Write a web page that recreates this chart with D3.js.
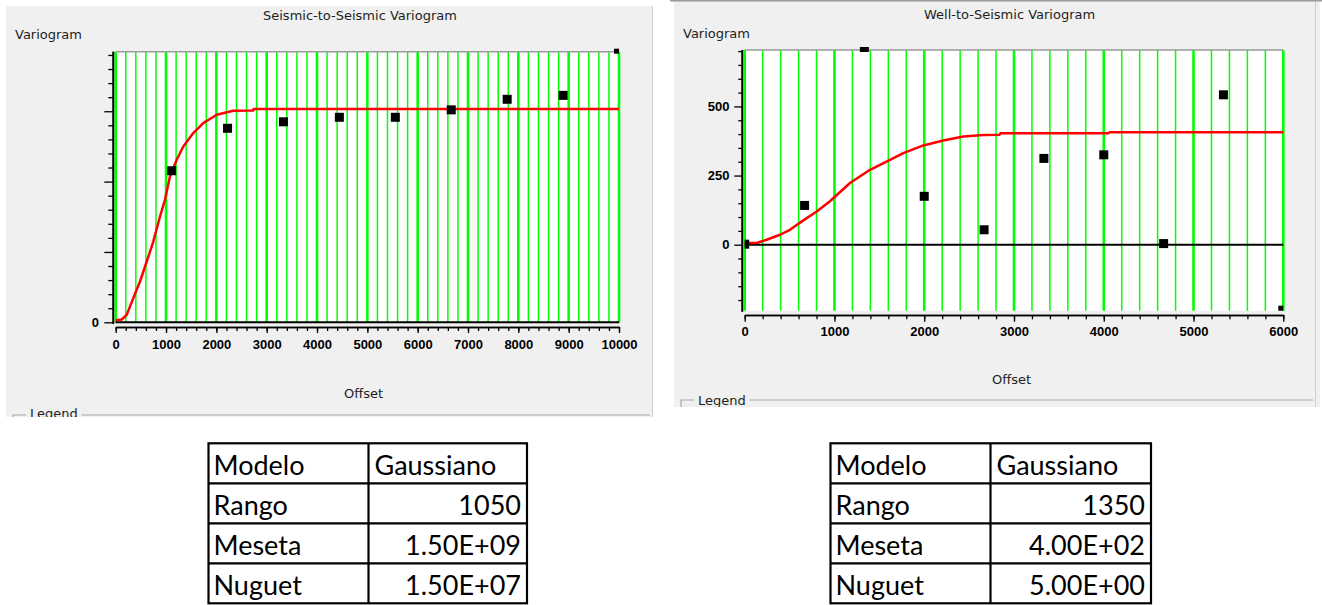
<!DOCTYPE html>
<html>
<head>
<meta charset="utf-8">
<script src="https://cdn.jsdelivr.net/npm/d3@7/dist/d3.min.js"></script>
<style>
  html, body { margin: 0; padding: 0; background: #ffffff; }
  svg { display: block; }
  .ttl { font-family: "DejaVu Sans", sans-serif; font-size: 13px; fill: #1e1e1e; }
  .tick text { font-family: "Liberation Sans", Arial, sans-serif; font-weight: bold; font-size: 13px; fill: #000; }
  .tbl { font-family: Lato, "Open Sans", sans-serif; font-size: 27px; fill: #000; }
</style>
</head>
<body>
<svg id="chart" width="1322" height="605"></svg>
<script>
// ---------------- DATA ----------------
// Seismic-to-Seismic variogram (left)
const leftTitle = "Seismic-to-Seismic Variogram";
const leftLag = [1111, 2222, 3333, 4444, 5556, 6667, 7778, 8889, 10000];
const leftGamma = [1.077e9, 1.379e9, 1.425e9, 1.457e9, 1.457e9, 1.510e9, 1.585e9, 1.613e9, 2.05e9];
const leftModelOffset = [0, 119, 218, 350, 483, 616, 747, 880, 979, 1078, 1212, 1343, 1541, 1740, 2006, 2336, 2730, 2740, 10000];
const leftModelGamma = [0.015e9, 0.02e9, 0.053e9, 0.172e9, 0.29e9, 0.432e9, 0.574e9, 0.752e9, 0.871e9, 1.036e9, 1.155e9, 1.249e9, 1.345e9, 1.416e9, 1.475e9, 1.503e9, 1.505e9, 1.516e9, 1.516e9];
const leftXMajor = [0, 1000, 2000, 3000, 4000, 5000, 6000, 7000, 8000, 9000, 10000];
const leftXMinorStep = 200;
const leftYMajor = [0, 5e8, 1e9, 1.5e9];
const leftYMajorLabels = ["0", "", "", ""];
const leftYMinor = [1e8, 2e8, 3e8, 4e8, 6e8, 7e8, 8e8, 9e8, 1.1e9, 1.2e9, 1.3e9, 1.4e9, 1.6e9, 1.7e9, 1.8e9, 1.9e9];

// Well-to-Seismic variogram (right)
const rightTitle = "Well-to-Seismic Variogram";
const rightLag = [0, 667, 1333, 2000, 2667, 3333, 4000, 4667, 5333, 6000];
const rightGamma = [2, 142, 760, 175, 54, 312, 325, 4, 542, -260];
const rightModelOffset = [0, 134, 245, 393, 504, 653, 802, 950, 1173, 1396, 1619, 1767, 1990, 2212, 2435, 2658, 2840, 2850, 4050, 4065, 6000];
const rightModelGamma = [6, 6, 18, 36, 54, 88, 120, 157, 223, 271, 307, 331, 359, 377, 391, 397, 398, 403, 403, 407, 407];
const rightXMajor = [0, 1000, 2000, 3000, 4000, 5000, 6000];
const rightXMinorStep = 200;
const rightYMajor = [0, 250, 500];
const rightYMajorLabels = ["0", "250", "500"];
const rightYMinor = [-200, -150, -100, -50, 50, 100, 150, 200, 300, 350, 400, 450, 550, 600, 650, 700];

const yLabel = "Variogram";
const xLabel = "Offset";
const legendLabel = "Legend";

// Parameter tables
const tableLeft = [["Modelo", "Gaussiano"], ["Rango", "1050"], ["Meseta", "1.50E+09"], ["Nuguet", "1.50E+07"]];
const tableRight = [["Modelo", "Gaussiano"], ["Rango", "1350"], ["Meseta", "4.00E+02"], ["Nuguet", "5.00E+00"]];

// ---------------- LAYOUT ----------------
const svg = d3.select("#chart");
svg.append("rect").attr("width", 1322).attr("height", 605).attr("fill", "#ffffff");

const GREEN = "#00ff00";

function drawPanel(cfg) {
  const p = cfg.panel;
  const clipId = cfg.id + "-panel";
  svg.append("clipPath").attr("id", clipId)
    .append("rect").attr("x", p.x).attr("y", p.y).attr("width", p.w).attr("height", p.h);
  const g = svg.append("g").attr("clip-path", `url(#${clipId})`);
  g.append("rect").attr("x", p.x).attr("y", p.y).attr("width", p.w).attr("height", p.h).attr("fill", "#f0f0f0");

  const pl = cfg.plot;
  const x = d3.scaleLinear().domain(cfg.xDomain).range([pl.x0, pl.x1]);
  const y = d3.scaleLinear().domain(cfg.yDomain).range([pl.y1, pl.y0]);

  // plot background
  g.append("rect").attr("x", pl.x0).attr("y", pl.y0).attr("width", pl.x1 - pl.x0).attr("height", pl.y1 - pl.y0).attr("fill", "#ffffff");

  // vertical grid lines (minor thin, major thick)
  const xMinor = d3.range(cfg.xDomain[0], cfg.xDomain[1] + 1, cfg.xMinorStep);
  const majorSet = new Set(cfg.xMajor);
  g.append("g").selectAll("line").data(xMinor).join("line")
    .attr("x1", d => x(d)).attr("x2", d => x(d))
    .attr("y1", pl.y0).attr("y2", pl.y1)
    .attr("stroke", GREEN)
    .attr("stroke-width", d => majorSet.has(d) ? 2.6 : 1.5);

  // top border
  g.append("line").attr("x1", pl.x0).attr("x2", pl.x1).attr("y1", pl.y0).attr("y2", pl.y0)
    .attr("stroke", "#9a9a9a").attr("stroke-width", 1.5);

  // zero line
  g.append("line").attr("x1", pl.x0).attr("x2", pl.x1).attr("y1", y(0)).attr("y2", y(0))
    .attr("stroke", "#000").attr("stroke-width", 2);

  // model curve
  const plotClip = cfg.id + "-plot";
  svg.append("clipPath").attr("id", plotClip)
    .append("rect").attr("x", pl.x0).attr("y", pl.y0).attr("width", pl.x1 - pl.x0).attr("height", pl.y1 - pl.y0);
  const curve = cfg.modelX.map((d, i) => [d, cfg.modelY[i]]);
  g.append("path").datum(curve)
    .attr("d", d3.line().x(d => x(d[0])).y(d => y(d[1])))
    .attr("fill", "none").attr("stroke", "#ff0000").attr("stroke-width", 2.5)
    .attr("stroke-linejoin", "round");

  // experimental points
  const pts = cfg.lag.map((d, i) => ({ x: d, y: cfg.gamma[i] }));
  const inside = pts.filter(d => d.y <= cfg.yDomain[1] && d.y >= cfg.yDomain[0]);
  const outside = pts.filter(d => d.y > cfg.yDomain[1] || d.y < cfg.yDomain[0]);
  g.append("g").attr("clip-path", `url(#${plotClip})`).selectAll("rect").data(inside).join("rect")
    .attr("x", d => x(d.x) - 4.5).attr("y", d => y(d.y) - 4.5)
    .attr("width", 9).attr("height", 9).attr("fill", "#000");
  g.append("g").selectAll("rect").data(outside).join("rect")
    .attr("x", d => x(d.x) >= pl.x1 - 0.5 ? pl.x1 - 5 : x(d.x) - 4.5)
    .attr("width", d => x(d.x) >= pl.x1 - 0.5 ? 5 : 9)
    .attr("y", d => d.y > cfg.yDomain[1] ? pl.y0 - 3 : pl.y1 - 5)
    .attr("height", 5)
    .attr("fill", "#000");

  // x axis
  const xAxisG = g.append("g").attr("transform", `translate(0,${cfg.xAxisY})`);
  xAxisG.append("g").call(d3.axisBottom(x).tickValues(xMinor).tickSize(cfg.xMinorLen).tickSizeOuter(0).tickFormat(""));
  xAxisG.append("g").call(d3.axisBottom(x).tickValues(cfg.xMajor).tickSize(cfg.xMajorLen).tickSizeOuter(0)
    .tickPadding(cfg.xPad).tickFormat(d3.format("d")));
  xAxisG.selectAll("path.domain").attr("stroke", "#000").attr("stroke-width", 1.6);
  xAxisG.selectAll(".tick line").attr("stroke", "#000").attr("stroke-width", 1.3);

  // y axis
  const yAxisG = g.append("g").attr("transform", `translate(${cfg.yAxisX},0)`);
  yAxisG.append("g").call(d3.axisLeft(y).tickValues(cfg.yMinor).tickSize(cfg.yMinorLen).tickSizeOuter(0).tickFormat(""));
  yAxisG.append("g").call(d3.axisLeft(y).tickValues(cfg.yMajor).tickSize(cfg.yMajorLen).tickSizeOuter(0)
    .tickPadding(cfg.yPad).tickFormat((d, i) => cfg.yLabels[i]));
  yAxisG.selectAll("path.domain").attr("stroke", "#000").attr("stroke-width", 1.6);
  yAxisG.selectAll(".tick line").attr("stroke", "#000").attr("stroke-width", 1.3);
  // extend y axis line over full plot height
  yAxisG.selectAll("path.domain").attr("d", `M0,${pl.y0}V${pl.y1 + 1}`);

  // texts
  g.append("text").attr("class", "ttl").attr("x", cfg.titleX).attr("y", cfg.titleY).text(cfg.title);
  g.append("text").attr("class", "ttl").attr("x", cfg.yLabelX).attr("y", cfg.yLabelY).text(yLabel);
  g.append("text").attr("class", "ttl").attr("x", cfg.xLabelX).attr("y", cfg.xLabelY).text(xLabel);

  // legend group box
  const lg = cfg.legend;
  const lt = g.append("text").attr("class", "ttl").attr("x", lg.textX).attr("y", lg.textY).text(legendLabel);
  const tw = lt.node().getComputedTextLength();
  g.append("path")
    .attr("d", `M${lg.x0},${p.y + p.h + 2}V${lg.lineY}H${lg.textX - 4}M${lg.textX + tw + 4},${lg.lineY}H${lg.x1}`)
    .attr("fill", "none").attr("stroke", "#a8a8a8").attr("stroke-width", 1.2);

  // panel edge
  svg.append("line").attr("x1", cfg.edgeX).attr("x2", cfg.edgeX).attr("y1", p.y).attr("y2", p.y + p.h)
    .attr("stroke", "#cfcfcf").attr("stroke-width", 1);
  if (cfg.topBorder) {
    svg.append("line").attr("x1", p.x - 4).attr("x2", 1322).attr("y1", 0.8).attr("y2", 0.8)
      .attr("stroke", "#9a9a9a").attr("stroke-width", 1.6);
  }
}

drawPanel({
  id: "left",
  panel: { x: 6, y: 6, w: 646, h: 411 },
  plot: { x0: 115.7, x1: 619, y0: 51.7, y1: 322.8 },
  xDomain: [0, 10000], yDomain: [-0.00355e9, 1.9232e9],
  xMajor: leftXMajor, xMinorStep: leftXMinorStep,
  yMajor: leftYMajor, yLabels: leftYMajorLabels, yMinor: leftYMinor,
  lag: leftLag, gamma: leftGamma, modelX: leftModelOffset, modelY: leftModelGamma,
  xAxisY: 327, xMinorLen: 4, xMajorLen: 6, xPad: 6.4,
  yAxisX: 113.3, yMinorLen: 5, yMajorLen: 9, yPad: 5.3,
  title: leftTitle, titleX: 263, titleY: 19.7,
  yLabelX: 15, yLabelY: 38.6, xLabelX: 344, xLabelY: 397.5,
  legend: { x0: 13, x1: 650, lineY: 415, textX: 30, textY: 417.6 },
  edgeX: 652.5, topBorder: false
});

drawPanel({
  id: "right",
  panel: { x: 674, y: 0, w: 646, h: 407 },
  plot: { x0: 744.7, x1: 1283.3, y0: 50, y1: 310.7 },
  xDomain: [0, 6000], yDomain: [-238.6, 704],
  xMajor: rightXMajor, xMinorStep: rightXMinorStep,
  yMajor: rightYMajor, yLabels: rightYMajorLabels, yMinor: rightYMinor,
  lag: rightLag, gamma: rightGamma, modelX: rightModelOffset, modelY: rightModelGamma,
  xAxisY: 315, xMinorLen: 4.3, xMajorLen: 6.7, xPad: 5.4,
  yAxisX: 742.3, yMinorLen: 4, yMajorLen: 8, yPad: 4.8,
  title: rightTitle, titleX: 924, titleY: 18.7,
  yLabelX: 683, yLabelY: 37.6, xLabelX: 992, xLabelY: 383.8,
  legend: { x0: 681, x1: 1313, lineY: 400, textX: 698, textY: 404.6 },
  edgeX: 1315.5, topBorder: true
});

// ---------------- TABLES ----------------
function drawTable(rows, cfg) {
  const g = svg.append("g");
  const nR = rows.length;
  const rowY = d3.scaleLinear().domain([0, nR]).range([cfg.y0, cfg.y0 + cfg.rowH * nR]);
  g.append("rect").attr("x", cfg.x0).attr("y", cfg.y0).attr("width", cfg.x2 - cfg.x0).attr("height", cfg.rowH * nR)
    .attr("fill", "#fff").attr("stroke", "#000").attr("stroke-width", 2.2);
  g.selectAll("line.h").data(d3.range(1, nR)).join("line").attr("class", "h")
    .attr("x1", cfg.x0).attr("x2", cfg.x2).attr("y1", d => rowY(d)).attr("y2", d => rowY(d))
    .attr("stroke", "#000").attr("stroke-width", 2.2);
  g.append("line").attr("x1", cfg.x1).attr("x2", cfg.x1).attr("y1", cfg.y0).attr("y2", cfg.y0 + cfg.rowH * nR)
    .attr("stroke", "#000").attr("stroke-width", 2.2);
  rows.forEach((r, i) => {
    g.append("text").attr("class", "tbl").attr("x", cfg.x0 + 5).attr("y", rowY(i) + cfg.base).text(r[0]);
    const num = i > 0;
    g.append("text").attr("class", "tbl")
      .attr("x", num ? cfg.x2 - 6 : cfg.x1 + 6)
      .attr("text-anchor", num ? "end" : "start")
      .attr("y", rowY(i) + cfg.base).text(r[1]);
  });
}
drawTable(tableLeft, { x0: 208.5, x1: 368.5, x2: 527, y0: 443.3, rowH: 40, base: 31.5 });
drawTable(tableRight, { x0: 830.5, x1: 990.5, x2: 1151, y0: 443.3, rowH: 40, base: 31.5 });
</script>
</body>
</html>
